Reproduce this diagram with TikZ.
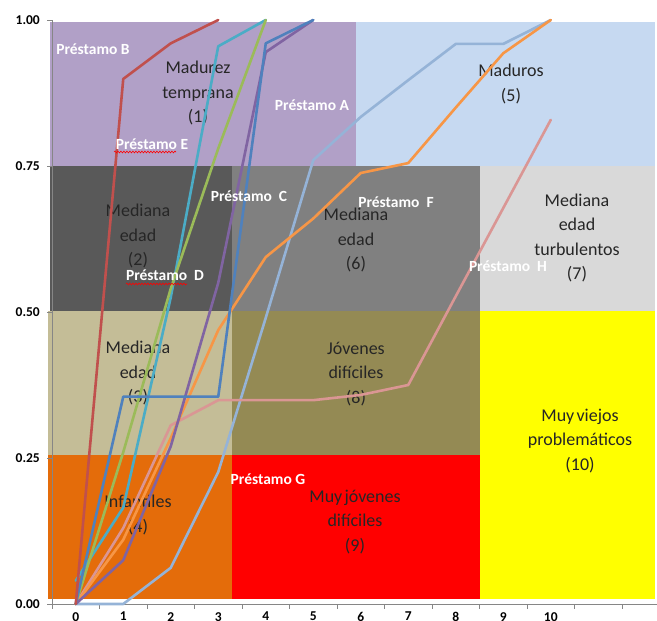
\documentclass[tikz,border=0pt]{standalone}
\usepackage{fontspec}
\setmainfont{Carlito}
\usetikzlibrary{decorations.pathmorphing}

\definecolor{zPurple}{HTML}{B1A0C7}
\definecolor{zSky}{HTML}{C6D9F1}
\definecolor{zDark}{HTML}{595959}
\definecolor{zMid}{HTML}{808080}
\definecolor{zLight}{HTML}{D9D9D9}
\definecolor{zTan}{HTML}{C4BD97}
\definecolor{zOlive}{HTML}{948A54}
\definecolor{zYellow}{HTML}{FFFF00}
\definecolor{zOrange}{HTML}{E46C0A}
\definecolor{zRed}{HTML}{FF0000}
\definecolor{axisGray}{HTML}{868686}

\definecolor{sBlue}{HTML}{4F81BD}
\definecolor{sRed}{HTML}{C0504D}
\definecolor{sGreen}{HTML}{9BBB59}
\definecolor{sViolet}{HTML}{8064A2}
\definecolor{sTeal}{HTML}{4BACC6}
\definecolor{sOrange}{HTML}{F79646}
\definecolor{sPale}{HTML}{95B3D7}
\definecolor{sRose}{HTML}{DA9694}

\begin{document}
\begin{tikzpicture}[x=1pt,y=-1pt,
  zone/.style={align=center,font=\fontsize{18}{24.5}\selectfont,inner sep=0pt,text=black!85},
  loan/.style={text=white,font=\bfseries\fontsize{15.5}{17}\selectfont,inner sep=0pt},
  series/.style={draw=#1,line width=2.6pt,line join=round,line cap=round},
  axisline/.style={draw=axisGray,line width=0.8pt},
  ticklabel/.style={font=\bfseries\fontsize{13.5}{15}\selectfont,inner sep=0pt},
  spell/.style={draw=red,line width=0.6pt,decorate,decoration={snake,amplitude=0.9pt,segment length=3pt}}]

\fill[white] (0,0) rectangle (657,621);
\useasboundingbox (0,0) rectangle (657,621);

% background zones
\fill[zPurple] (50,22) rectangle (356,166);
\fill[zSky]    (356,22) rectangle (655,166);
\fill[zDark]   (50,166) rectangle (232,311);
\fill[zMid]    (232,166) rectangle (480,311);
\fill[zLight]  (480,166) rectangle (655,311);
\fill[zTan]    (48,311) rectangle (232,455);
\fill[zOlive]  (232,311) rectangle (480,455);
\fill[zYellow] (480,311) rectangle (655,599);
\fill[zOrange] (48,455) rectangle (232,599);
\fill[zRed]    (232,455) rectangle (480,599);

% zone captions
\node[zone] (z1)  at (198,93)  {Madurez\\temprana\\(1)};
\node[zone] (z5)  at (511,84)  {Maduros\\(5)};
\node[zone] (z2)  at (138,236) {Mediana\\edad\\(2)};
\node[zone] (z6)  at (356,240) {Mediana\\edad\\(6)};
\node[zone] (z7)  at (577,238) {Mediana\\edad\\turbulentos\\(7)};
\node[zone] (z3)  at (138,373) {Mediana\\edad\\(3)};
\node[zone] (z8)  at (356,374) {Jóvenes\\difíciles\\(8)};
\node[zone] (z10) at (580,441) {Muy\hspace{0.12em}viejos\\problemáticos\\(10)};
\node[zone] (z4)  at (138,515) {Infantiles\\(4)};
\node[zone] (z9)  at (355,522) {Muy\hspace{0.12em}jóvenes\\difíciles\\(9)};

% axes
\draw[axisline] (52,20) -- (52,604);
\draw[axisline] (52,604) -- (657,604);
\foreach \k/\lab in {0/0.00,1/0.25,2/0.50,3/0.75,4/1.00}{
  \draw[axisline] (47,604-146*\k) -- (52,604-146*\k);
  \node[ticklabel,anchor=east] (yl\k) at (40,604-146*\k) {\lab};
}
\foreach \k in {0,...,12}{
  \draw[axisline] (52+47.5*\k,604) -- (52+47.5*\k,609);
}
\foreach \i in {0,...,10}{
  \node[ticklabel,anchor=north] (xl\i) at (75.75+47.5*\i,612) {\i};
}

% loan trajectories
\begin{scope}[xshift=75.75pt,yshift=-604pt,x=47.5pt,y=584pt]
\draw[series=sPale]   (0,0) -- (1,0) -- (2,0.062) -- (3,0.226) -- (4,0.49) -- (5,0.76) -- (6,0.834) -- (7,0.897) -- (8,0.959) -- (9,0.959) -- (10,1);
\draw[series=sRose]   (0,0) -- (1,0.13) -- (2,0.306) -- (3,0.349) -- (4,0.349) -- (5,0.349) -- (6,0.358) -- (7,0.375) -- (8,0.527) -- (9,0.678) -- (10,0.829);
\draw[series=sOrange] (0,0) -- (1,0.11) -- (2,0.284) -- (3,0.469) -- (4,0.594) -- (5,0.66) -- (6,0.738) -- (7,0.755) -- (8,0.85) -- (9,0.943) -- (10,1);
\draw[series=sTeal]   (0,0.04) -- (1,0.165) -- (2,0.525) -- (3,0.955) -- (4,1);
\draw[series=sGreen]  (0,0) -- (1,0.26) -- (2,0.54) -- (3,0.78) -- (4,1);
\draw[series=sViolet] (0,0) -- (1,0.075) -- (2,0.27) -- (3,0.55) -- (4,0.945) -- (5,1);
\draw[series=sBlue]   (0,0) -- (1,0.355) -- (2,0.355) -- (3,0.355) -- (4,0.96) -- (5,1);
\draw[series=sRed]    (0,0) -- (1,0.899) -- (2,0.96) -- (3,1);
\end{scope}

% loan labels
\node[loan] (pB) at (93,49)   {Préstamo B};
\node[loan] (pE) at (152,144) {Préstamo E};
\node[loan] (pA) at (312,105) {Préstamo A};
\node[loan] (pC) at (249,196) {Préstamo\ \ C};
\node[loan] (pD) at (165,275) {Préstamo\ \ D};
\node[loan] (pF) at (396,202) {Préstamo\ \ F};
\node[loan] (pH) at (508,266) {Préstamo\ \ H};
\node[loan] (pG) at (268,479) {Préstamo G};

% spell-check marks
\coordinate (eA) at (114,152);
\coordinate (eB) at (176,152);
\coordinate (dA) at (126,284);
\coordinate (dB) at (187,284);
\draw[spell] (eA) -- (eB);
\draw[spell] (dA) -- (dB);

\end{tikzpicture}
\end{document}
